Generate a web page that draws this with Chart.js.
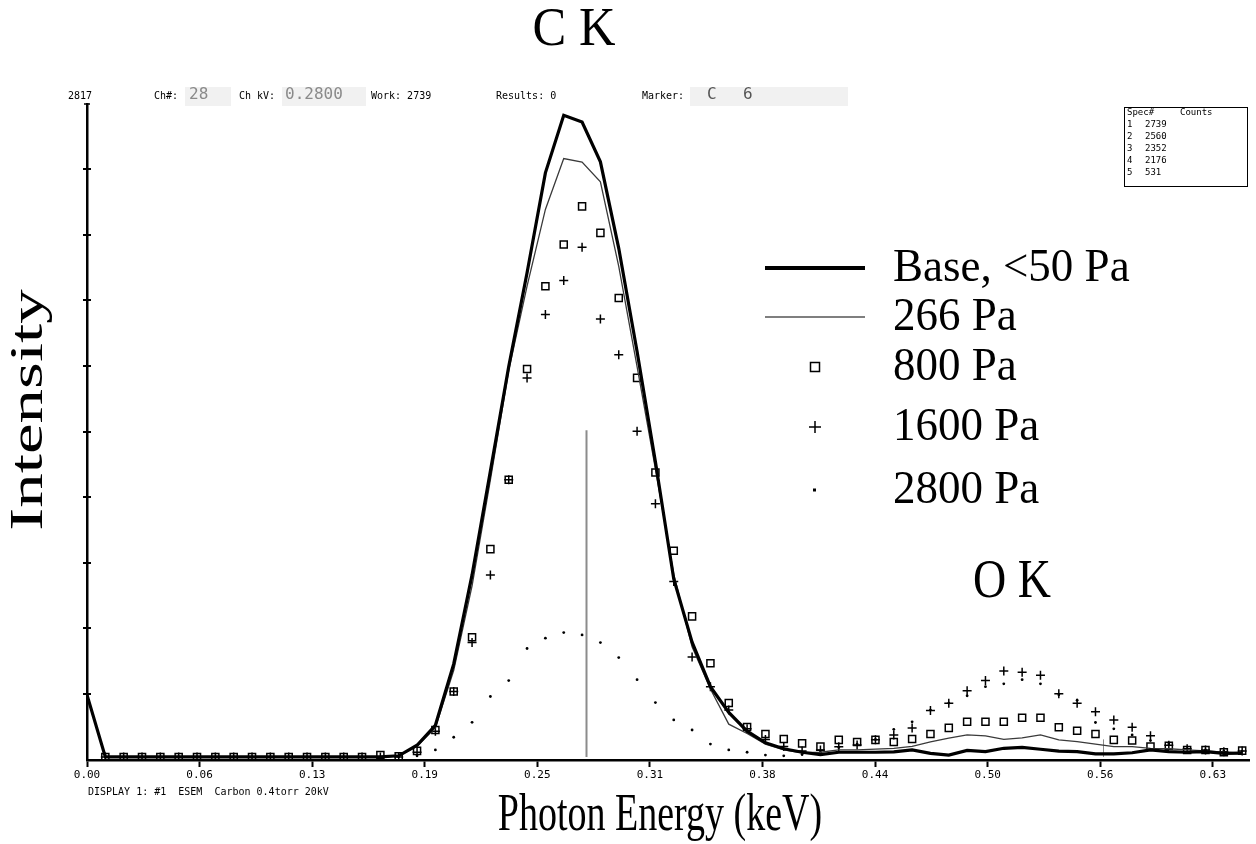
<!DOCTYPE html>
<html>
<head>
<meta charset="utf-8">
<title>C K / O K spectra vs chamber pressure</title>
<script src="https://cdn.jsdelivr.net/npm/chart.js@4.4.0/dist/chart.umd.min.js"></script>
<style>
  html, body { margin: 0; padding: 0; background: #fff; }
  #wrap { position: relative; width: 1256px; height: 844px; }
</style>
</head>
<body>
<div id="wrap"><canvas id="spectrumChart" width="1256" height="844"></canvas></div>
<script>
// Channel energies (keV), 10 eV per channel, channel 0..63
const channelKeV = [
  0.00, 0.01, 0.02, 0.03, 0.04, 0.05, 0.06, 0.07, 0.08, 0.09,
  0.10, 0.11, 0.12, 0.13, 0.14, 0.15, 0.16, 0.17, 0.18, 0.19,
  0.20, 0.21, 0.22, 0.23, 0.24, 0.25, 0.26, 0.27, 0.28, 0.29,
  0.30, 0.31, 0.32, 0.33, 0.34, 0.35, 0.36, 0.37, 0.38, 0.39,
  0.40, 0.41, 0.42, 0.43, 0.44, 0.45, 0.46, 0.47, 0.48, 0.49,
  0.50, 0.51, 0.52, 0.53, 0.54, 0.55, 0.56, 0.57, 0.58, 0.59,
  0.60, 0.61, 0.62, 0.63
];

// Counts per channel
const base50Pa = [
  265, 0, 0, 0, 0, 0, 0, 0, 0, 0,
  0, 0, 0, 0, 0, 0, 0, 5, 50, 135,
  397, 777, 1220, 1666, 2067, 2493, 2739, 2710, 2540, 2171,
  1731, 1260, 760, 490, 300, 190, 110, 60, 35, 20,
  10, 20, 20, 20, 22, 30, 15, 8, 28, 23,
  37, 41, 33, 25, 23, 13, 13, 18, 30, 23,
  20, 23, 15, 16
];
const pa266 = [
  265, 0, 0, 0, 0, 0, 0, 0, 0, 0,
  0, 0, 0, 0, 0, 0, 0, 5, 45, 125,
  370, 730, 1183, 1650, 2010, 2337, 2554, 2539, 2455, 2094,
  1666, 1230, 780, 470, 290, 140, 100, 55, 30, 18,
  20, 30, 30, 33, 37, 45, 64, 80, 94, 90,
  75, 81, 94, 73, 65, 55, 44, 44, 37, 35,
  30, 26, 20, 16
];
const pa800 = [
  null, 0, 0, 0, 0, 0, 0, 0, 0, 0,
  0, 0, 0, 0, 0, 0, 8, 3, 26, 115,
  279, 511, 887, 1183, 1656, 2009, 2187, 2350, 2237, 1959,
  1618, 1214, 880, 600, 400, 230, 128, 98, 77, 58,
  44, 73, 64, 73, 64, 77, 98, 124, 150, 150,
  150, 167, 167, 127, 112, 98, 73, 70, 44, 48,
  30, 30, 20, 27
];
const pa1600 = [
  null, 0, 0, 0, 0, 0, 0, 0, 0, 0,
  0, 0, 0, 0, 0, 0, 0, 0, 20, 110,
  279, 488, 777, 1183, 1617, 1888, 2034, 2176, 1869, 1717,
  1390, 1081, 749, 427, 300, 200, 120, 75, 45, 25,
  30, 44, 51, 73, 94, 124, 198, 229, 283, 326,
  367, 362, 349, 270, 229, 193, 158, 127, 90, 50,
  35, 30, 22, 25
];
const pa2800 = [
  null, 0, 0, 0, 0, 0, 0, 0, 0, 0,
  0, 0, 0, 0, 0, 0, 0, 0, 5, 30,
  84, 148, 258, 326, 463, 507, 531, 521, 488, 424,
  330, 232, 158, 115, 55, 30, 20, 8, 5, 10,
  20, 40, 55, 75, 118, 150, 200, 230, 261, 300,
  312, 330, 312, 265, 242, 147, 120, 94, 70, 55,
  35, 30, 25, 25
];

const seriesLabels = ['Base, <50 Pa', '266 Pa', '800 Pa', '1600 Pa', '2800 Pa'];

// Axis ticks as printed by the analyser
const xTickValues = [0, 0.0614, 0.1228, 0.1842, 0.2456, 0.3070, 0.3684, 0.4298, 0.4912, 0.5526, 0.6140];
const xTickLabels = ['0.00', '0.06', '0.13', '0.19', '0.25', '0.31', '0.38', '0.44', '0.50', '0.56', '0.63'];
const yTickValues = [269, 549, 829, 1109, 1389, 1669, 1949, 2229, 2509];

// Gray marker lines (keV, height in counts)
const markerKeV = [0.272, 0.554];
const markerHeight = [1395, 75];

// Spectrum table (top right)
const specNumbers = ['1', '2', '3', '4', '5'];
const specCounts = ['2739', '2560', '2352', '2176', '531'];

const toPoints = arr => channelKeV.map((e, i) => ({ x: e, y: arr[i] }));

function drawText(ctx, text, x, y, font, opts) {
    opts = opts || {};
    ctx.save();
    ctx.translate(x, y);
    if (opts.rotate) ctx.rotate(opts.rotate);
    ctx.scale(opts.sx || 1, opts.sy || 1);
    ctx.font = font;
    ctx.fillStyle = opts.color || '#000';
    ctx.textAlign = opts.align || 'left';
    ctx.textBaseline = 'middle';
    ctx.fillText(text, 0, 0);
    ctx.restore();
}

const decorPlugin = {
    id: 'spectrumDecor',
    beforeDraw(chart) {
        const ctx = chart.ctx;
        ctx.save();
        ctx.fillStyle = '#fff';
        ctx.fillRect(0, 0, chart.width, chart.height);
        ctx.restore();
    },
    beforeDatasetsDraw(chart) {
        const ctx = chart.ctx;
        const x = chart.scales.x, y = chart.scales.y;
        ctx.save();
        ctx.strokeStyle = '#8c8c8c';
        markerKeV.forEach((k, i) => {
            ctx.lineWidth = i === 0 ? 2 : 1;
            const px = Math.round(x.getPixelForValue(k)) + 0.5;
            ctx.beginPath();
            ctx.moveTo(px, y.getPixelForValue(0));
            ctx.lineTo(px, y.getPixelForValue(markerHeight[i]));
            ctx.stroke();
        });
        ctx.restore();
    },
    afterDraw(chart) {
        const ctx = chart.ctx;
        const y = chart.scales.y;
        const axisX = chart.chartArea.left;

        // y tick marks crossing the axis, plus a cap at the top
        ctx.save();
        ctx.strokeStyle = '#000';
        ctx.lineWidth = 2;
        yTickValues.forEach(v => {
            const py = Math.round(y.getPixelForValue(v));
            ctx.beginPath();
            ctx.moveTo(axisX - 4, py);
            ctx.lineTo(axisX + 4, py);
            ctx.stroke();
        });
        ctx.lineWidth = 1.5;
        ctx.beginPath();
        ctx.moveTo(axisX - 3, chart.chartArea.top);
        ctx.lineTo(axisX + 3, chart.chartArea.top);
        ctx.stroke();
        ctx.restore();

        // analyser header line
        const small = '10px "DejaVu Sans Mono"';
        const value = '16px "DejaVu Sans Mono"';
        ctx.fillStyle = '#f1f1f1';
        ctx.fillRect(185, 87, 46, 19);
        ctx.fillRect(282, 87, 84, 19);
        ctx.fillRect(690, 87, 158, 19);
        drawText(ctx, '2817', 68, 96, small);
        drawText(ctx, 'Ch#:', 154, 96, small);
        drawText(ctx, '28', 189, 95, value, { color: '#8a8a8a' });
        drawText(ctx, 'Ch kV:', 239, 96, small);
        drawText(ctx, '0.2800', 285, 95, value, { color: '#8a8a8a' });
        drawText(ctx, 'Work: 2739', 371, 96, small);
        drawText(ctx, 'Results: 0', 496, 96, small);
        drawText(ctx, 'Marker:', 642, 96, small);
        drawText(ctx, 'C', 707, 95, value, { color: '#555' });
        drawText(ctx, '6', 743, 95, value, { color: '#555' });

        // spectrum counts table
        ctx.save();
        ctx.strokeStyle = '#000';
        ctx.lineWidth = 1;
        ctx.strokeRect(1124.5, 107.5, 123, 79);
        ctx.restore();
        const tiny = '9px "DejaVu Sans Mono"';
        drawText(ctx, 'Spec#', 1127, 113, tiny);
        drawText(ctx, 'Counts', 1180, 113, tiny);
        specNumbers.forEach((n, i) => {
            const ry = 125 + i * 11.8;
            drawText(ctx, n, 1127, ry, tiny);
            drawText(ctx, specCounts[i], 1145, ry, tiny);
        });

        // footer
        drawText(ctx, 'DISPLAY 1: #1  ESEM  Carbon 0.4torr 20kV', 88, 792, small);

        // peak labels and axis titles
        const serif = '"Liberation Serif", "Times New Roman", serif';
        drawText(ctx, 'C K', 574, 31, '46px ' + serif, { align: 'center', sx: 1.1, sy: 1.2 });
        drawText(ctx, 'O K', 1012, 583, '46px ' + serif, { align: 'center', sy: 1.2 });
        drawText(ctx, 'Intensity', 30, 410, '46px ' + serif, { align: 'center', rotate: -Math.PI / 2, sx: 1.5 });
        drawText(ctx, 'Photon Energy (keV)', 660, 816, '38px ' + serif, { align: 'center', sy: 1.4 });

        // legend
        const legendY = [268, 317, 367, 427, 490];
        const legendFont = '45px ' + serif;
        ctx.save();
        ctx.strokeStyle = '#000';
        ctx.fillStyle = '#000';
        ctx.lineWidth = 4;
        ctx.beginPath(); ctx.moveTo(765, legendY[0]); ctx.lineTo(865, legendY[0]); ctx.stroke();
        ctx.lineWidth = 1.2;
        ctx.beginPath(); ctx.moveTo(765, legendY[1]); ctx.lineTo(865, legendY[1]); ctx.stroke();
        ctx.lineWidth = 1.5;
        ctx.strokeRect(810.5, legendY[2] - 4.5, 9, 9);
        ctx.beginPath();
        ctx.moveTo(809, legendY[3]); ctx.lineTo(821, legendY[3]);
        ctx.moveTo(815, legendY[3] - 6); ctx.lineTo(815, legendY[3] + 6);
        ctx.stroke();
        ctx.fillRect(813, legendY[4] - 1.5, 3, 3);
        ctx.restore();
        seriesLabels.forEach((t, i) => {
            drawText(ctx, t, 893, legendY[i] + 1, legendFont, { sy: 1.05 });
        });
    }
};

const ctx = document.getElementById('spectrumChart');

const spectrumChart = new Chart(ctx.getContext('2d'), {
    type: 'scatter',
    data: {
        datasets: [
            {
                label: seriesLabels[0],
                data: toPoints(base50Pa),
                showLine: true,
                borderColor: '#000',
                borderWidth: 3.2,
                pointRadius: 0,
                tension: 0
            },
            {
                label: seriesLabels[1],
                data: toPoints(pa266),
                showLine: true,
                borderColor: '#3a3a3a',
                borderWidth: 1.3,
                pointRadius: 0,
                tension: 0
            },
            {
                label: seriesLabels[2],
                data: toPoints(pa800),
                showLine: false,
                pointStyle: 'rect',
                pointRadius: 5,
                pointBorderColor: '#000',
                pointBackgroundColor: 'rgba(255,255,255,0)',
                pointBorderWidth: 1.5
            },
            {
                label: seriesLabels[3],
                data: toPoints(pa1600),
                showLine: false,
                pointStyle: 'cross',
                pointRadius: 4.5,
                pointBorderColor: '#000',
                pointBorderWidth: 1.5
            },
            {
                label: seriesLabels[4],
                data: toPoints(pa2800),
                showLine: false,
                pointStyle: 'circle',
                pointRadius: 1.4,
                pointBorderWidth: 0,
                pointBackgroundColor: '#000'
            }
        ]
    },
    options: {
        responsive: false,
        animation: false,
        devicePixelRatio: 1,
        layout: {
            padding: { left: 0, right: 6, top: 104, bottom: 0 }
        },
        scales: {
            x: {
                type: 'linear',
                min: 0,
                max: 0.634,
                afterFit: s => { s.height = 84; },
                afterBuildTicks: s => { s.ticks = xTickValues.map(v => ({ value: v })); },
                border: { display: true, color: '#000', width: 2.5 },
                grid: {
                    drawOnChartArea: false,
                    drawTicks: true,
                    tickLength: 7,
                    tickWidth: 2,
                    tickColor: '#000'
                },
                ticks: {
                    autoSkip: false,
                    maxRotation: 0,
                    padding: 2,
                    color: '#000',
                    font: { family: 'DejaVu Sans Mono', size: 11 },
                    callback: function(value, index) {
                        return xTickLabels[index];
                    }
                }
            },
            y: {
                type: 'linear',
                min: -13,
                max: 2787,
                afterFit: s => { s.width = 87; },
                border: { display: true, color: '#000', width: 2.5 },
                grid: { drawOnChartArea: false, drawTicks: false },
                ticks: { display: false }
            }
        },
        plugins: {
            legend: { display: false },
            tooltip: { enabled: false }
        }
    },
    plugins: [decorPlugin]
});
</script>
</body>
</html>
